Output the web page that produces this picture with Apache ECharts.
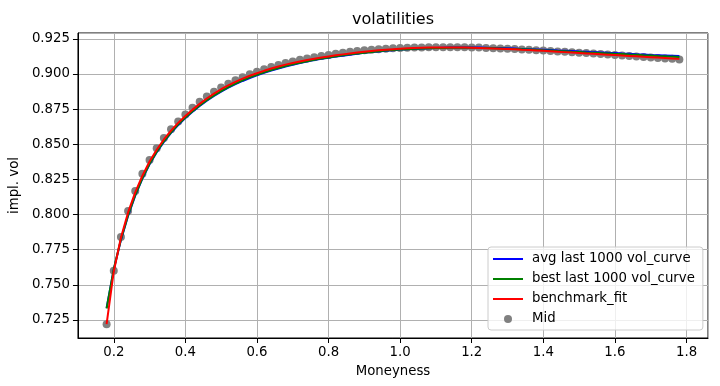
<!DOCTYPE html>
<html>
<head>
<meta charset="utf-8">
<script src="https://cdn.jsdelivr.net/npm/echarts@6/dist/echarts.min.js"></script>
<style>
  html, body { margin: 0; padding: 0; background: #fff; }
  #chart { width: 720px; height: 386px; }
</style>
</head>
<body>
<div id="chart"></div>
<script>
// moneyness grid (x)
var moneyness = [
  0.18, 0.20, 0.22, 0.24, 0.26, 0.28, 0.30, 0.32, 0.34, 0.36,
  0.38, 0.40, 0.42, 0.44, 0.46, 0.48, 0.50, 0.52, 0.54, 0.56,
  0.58, 0.60, 0.62, 0.64, 0.66, 0.68, 0.70, 0.72, 0.74, 0.76,
  0.78, 0.80, 0.82, 0.84, 0.86, 0.88, 0.90, 0.92, 0.94, 0.96,
  0.98, 1.00, 1.02, 1.04, 1.06, 1.08, 1.10, 1.12, 1.14, 1.16,
  1.18, 1.20, 1.22, 1.24, 1.26, 1.28, 1.30, 1.32, 1.34, 1.36,
  1.38, 1.40, 1.42, 1.44, 1.46, 1.48, 1.50, 1.52, 1.54, 1.56,
  1.58, 1.60, 1.62, 1.64, 1.66, 1.68, 1.70, 1.72, 1.74, 1.76,
  1.78
];

// Mid (grey dots)
var midVol = [
  0.7220, 0.7600, 0.7840, 0.8025, 0.8168, 0.8290, 0.8388, 0.8471, 0.8545, 0.8607,
  0.8662, 0.8712, 0.8760, 0.8802, 0.8840, 0.8873, 0.8903, 0.8930, 0.8955, 0.8977,
  0.8997, 0.9015, 0.9033, 0.9049, 0.9064, 0.9077, 0.9089, 0.9100, 0.9110, 0.9119,
  0.9127, 0.9135, 0.9143, 0.9150, 0.9157, 0.9163, 0.9168, 0.9172, 0.9176, 0.9179,
  0.9182, 0.9184, 0.9186, 0.9187, 0.9188, 0.9189, 0.9190, 0.9190, 0.9190, 0.9190,
  0.9189, 0.9188, 0.9187, 0.9185, 0.9183, 0.9181, 0.9179, 0.9177, 0.9174, 0.9172,
  0.9169, 0.9166, 0.9163, 0.9160, 0.9157, 0.9154, 0.9151, 0.9148, 0.9145, 0.9141,
  0.9138, 0.9135, 0.9131, 0.9128, 0.9124, 0.9121, 0.9117, 0.9114, 0.9110, 0.9107,
  0.9103
];

// avg last 1000 vol_curve (blue)
var avgCurve = [
  0.7335, 0.7610, 0.7818, 0.7991, 0.8135, 0.8255, 0.8357, 0.8443, 0.8517, 0.8581,
  0.8637, 0.8686, 0.8731, 0.8772, 0.8809, 0.8843, 0.8874, 0.8902, 0.8927, 0.8950,
  0.8971, 0.8990, 0.9008, 0.9024, 0.9039, 0.9053, 0.9065, 0.9077, 0.9088, 0.9098,
  0.9107, 0.9115, 0.9123, 0.9130, 0.9137, 0.9144, 0.9150, 0.9155, 0.9160, 0.9165,
  0.9169, 0.9173, 0.9176, 0.9179, 0.9181, 0.9183, 0.9185, 0.9186, 0.9187, 0.9187,
  0.9187, 0.9187, 0.9187, 0.9186, 0.9185, 0.9184, 0.9182, 0.9180, 0.9178, 0.9176,
  0.9174, 0.9172, 0.9170, 0.9167, 0.9165, 0.9163, 0.9160, 0.9158, 0.9155, 0.9153,
  0.9150, 0.9148, 0.9145, 0.9143, 0.9140, 0.9138, 0.9135, 0.9133, 0.9131, 0.9129,
  0.9127
];

// best last 1000 vol_curve (green)
var bestCurve = [
  0.7332, 0.7612, 0.7822, 0.7995, 0.8139, 0.8259, 0.8361, 0.8447, 0.8521, 0.8585,
  0.8641, 0.8690, 0.8735, 0.8776, 0.8813, 0.8847, 0.8878, 0.8906, 0.8931, 0.8954,
  0.8975, 0.8994, 0.9011, 0.9027, 0.9042, 0.9056, 0.9068, 0.9080, 0.9090, 0.9100,
  0.9109, 0.9117, 0.9125, 0.9132, 0.9139, 0.9145, 0.9151, 0.9156, 0.9161, 0.9166,
  0.9170, 0.9173, 0.9176, 0.9179, 0.9181, 0.9183, 0.9184, 0.9185, 0.9186, 0.9186,
  0.9186, 0.9186, 0.9185, 0.9184, 0.9183, 0.9181, 0.9179, 0.9177, 0.9175, 0.9173,
  0.9171, 0.9168, 0.9166, 0.9163, 0.9161, 0.9158, 0.9156, 0.9153, 0.9151, 0.9148,
  0.9146, 0.9143, 0.9141, 0.9138, 0.9136, 0.9133, 0.9131, 0.9128, 0.9126, 0.9123,
  0.9121
];

// benchmark_fit (red)
var benchmarkFit = [
  0.7220, 0.7595, 0.7835, 0.8015, 0.8157, 0.8276, 0.8377, 0.8461, 0.8534, 0.8597,
  0.8652, 0.8701, 0.8746, 0.8787, 0.8825, 0.8860, 0.8891, 0.8919, 0.8944, 0.8967,
  0.8987, 0.9005, 0.9022, 0.9038, 0.9053, 0.9066, 0.9078, 0.9089, 0.9099, 0.9108,
  0.9116, 0.9124, 0.9132, 0.9139, 0.9146, 0.9152, 0.9158, 0.9163, 0.9168, 0.9172,
  0.9176, 0.9179, 0.9182, 0.9184, 0.9186, 0.9187, 0.9188, 0.9188, 0.9188, 0.9188,
  0.9187, 0.9186, 0.9185, 0.9183, 0.9181, 0.9179, 0.9177, 0.9175, 0.9172, 0.9170,
  0.9167, 0.9164, 0.9161, 0.9158, 0.9155, 0.9152, 0.9149, 0.9146, 0.9143, 0.9140,
  0.9137, 0.9134, 0.9131, 0.9128, 0.9125, 0.9122, 0.9119, 0.9116, 0.9113, 0.9110,
  0.9107
];

var seriesNames = ['avg last 1000 vol_curve', 'best last 1000 vol_curve', 'benchmark_fit', 'Mid'];

function pairs(ys) {
  return moneyness.map(function (x, i) { return [x, ys[i]]; });
}

var FONT = 'DejaVu Sans';
// legend icon for the lines: a 2px bar inside a 30x8 box (the bare moves set the box)
var LINE_ICON = 'path://M0,0L0,0M0,3H30V5H0ZM30,8L30,8';

var chart = echarts.init(document.getElementById('chart'), null, { renderer: 'canvas' });

var option = {
  animation: false,
  backgroundColor: '#fff',
  title: {
    text: 'volatilities',
    left: 388,
    textAlign: 'center',
    top: 7,
    textStyle: { fontFamily: FONT, fontSize: 16, fontWeight: 'normal', color: '#000' }
  },
  grid: {
    left: 68, right: 12, top: 33, bottom: 48,
    show: true, borderColor: '#000', borderWidth: 1, backgroundColor: 'transparent'
  },
  legend: {
    orient: 'vertical',
    left: 488, top: 247,
    data: [
      { name: seriesNames[0], icon: LINE_ICON },
      { name: seriesNames[1], icon: LINE_ICON },
      { name: seriesNames[2], icon: LINE_ICON },
      { name: seriesNames[3], icon: 'circle' }
    ],
    itemWidth: 30, itemHeight: 8, itemGap: 6,
    padding: [5, 8, 4, 5],
    backgroundColor: 'rgba(255,255,255,0.8)',
    borderColor: '#ccc', borderWidth: 1, borderRadius: 3,
    textStyle: { fontFamily: FONT, fontSize: 13.3, color: '#000', lineHeight: 14, padding: [0, 0, 0, 4] }
  },
  xAxis: {
    type: 'value',
    min: 0.1, max: 1.86,
    minInterval: 0.2, maxInterval: 0.2,
    name: 'Moneyness',
    nameLocation: 'middle',
    nameGap: 27,
    nameTextStyle: { fontFamily: FONT, fontSize: 13.3, color: '#000' },
    axisLine: { show: true, lineStyle: { color: '#000', width: 1 } },
    axisTick: { show: true, length: 5, lineStyle: { color: '#000' } },
    axisLabel: {
      showMinLabel: false, showMaxLabel: false,
      margin: 8, fontFamily: FONT, fontSize: 13.3, color: '#000',
      formatter: function (v) { return v.toFixed(1); }
    },
    splitLine: { show: true, lineStyle: { color: '#b0b0b0', width: 1 } }
  },
  yAxis: {
    type: 'value',
    min: 0.7122, max: 0.9291,
    minInterval: 0.025, maxInterval: 0.025,
    name: 'impl. vol',
    nameLocation: 'middle',
    nameGap: 54,
    nameTextStyle: { fontFamily: FONT, fontSize: 13.3, color: '#000' },
    axisLine: { show: true, lineStyle: { color: '#000', width: 1 } },
    axisTick: { show: true, length: 5, lineStyle: { color: '#000' } },
    axisLabel: {
      showMinLabel: false, showMaxLabel: false,
      margin: 8, fontFamily: FONT, fontSize: 13.3, color: '#000',
      formatter: function (v) { return v.toFixed(3); }
    },
    splitLine: { show: true, lineStyle: { color: '#b0b0b0', width: 1 } }
  },
  series: [
    {
      name: seriesNames[3], type: 'scatter', z: 1,
      symbol: 'circle', symbolSize: 8,
      itemStyle: { color: '#808080', opacity: 1 },
      data: pairs(midVol)
    },
    {
      name: seriesNames[0], type: 'line', z: 2, symbol: 'none', smooth: false,
      lineStyle: { color: '#0000ff', width: 2 }, itemStyle: { color: '#0000ff' },
      data: pairs(avgCurve)
    },
    {
      name: seriesNames[1], type: 'line', z: 3, symbol: 'none', smooth: false,
      lineStyle: { color: '#008000', width: 2 }, itemStyle: { color: '#008000' },
      data: pairs(bestCurve)
    },
    {
      name: seriesNames[2], type: 'line', z: 4, symbol: 'none', smooth: false,
      lineStyle: { color: '#ff0000', width: 2 }, itemStyle: { color: '#ff0000' },
      data: pairs(benchmarkFit)
    }
  ]
};

chart.setOption(option);
</script>
</body>
</html>
